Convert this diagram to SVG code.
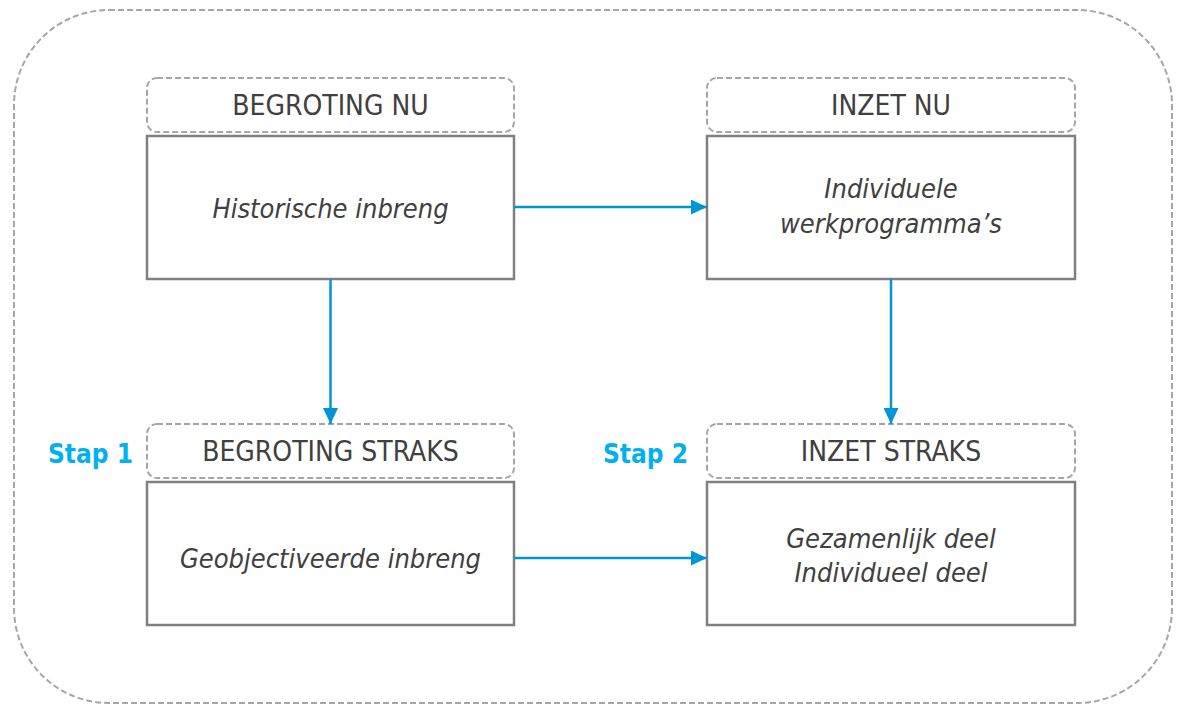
<svg xmlns="http://www.w3.org/2000/svg" width="1177" height="705" viewBox="0 0 1177 705">
<style>
.outer{fill:none;stroke:#a6a6a6;stroke-width:2;stroke-dasharray:6 3}
.hdr{fill:#fff;stroke:#a6a6a6;stroke-width:2;stroke-dasharray:6 3}
.box{fill:#fff;stroke:#808080;stroke-width:2.5}
.ht{font-family:"DejaVu Sans Condensed","DejaVu Sans",sans-serif;font-size:28px;fill:#404040;text-anchor:middle}
.bt{font-family:"DejaVu Sans Condensed","DejaVu Sans",sans-serif;font-size:27px;font-style:italic;fill:#404040;text-anchor:middle}
.stap{font-family:"DejaVu Sans Condensed","DejaVu Sans",sans-serif;font-size:26px;font-weight:bold;fill:#00B0F0;text-anchor:end}
.conn{stroke:#0096D6;stroke-width:2.5;fill:none}
</style>
<defs>
<marker id="ah" markerWidth="16" markerHeight="15" refX="16" refY="7.5" orient="auto" markerUnits="userSpaceOnUse">
<path d="M0,0 L16,7.5 L0,15 Z" fill="#0096D6"/>
</marker>
</defs>
<rect class="outer" x="14" y="10" width="1158" height="693" rx="95" ry="95"/>
<g id="begroting-nu">
<rect class="hdr" x="147" y="78" width="367" height="54" rx="10"/>
<text class="ht" x="330.5" y="115">BEGROTING NU</text>
<rect class="box" x="147" y="136" width="367" height="143"/>
<text class="bt" x="330.5" y="218">Historische inbreng</text>
</g>
<g id="inzet-nu">
<rect class="hdr" x="707" y="78" width="368" height="54" rx="10"/>
<text class="ht" x="891" y="115">INZET NU</text>
<rect class="box" x="707" y="136" width="368" height="143"/>
<text class="bt" x="891" y="198">Individuele</text>
<text class="bt" x="891" y="233">werkprogramma’s</text>
</g>
<g id="begroting-straks">
<text class="stap" x="133" y="463">Stap 1</text>
<rect class="hdr" x="147" y="424" width="367" height="54" rx="10"/>
<text class="ht" x="330.5" y="461">BEGROTING STRAKS</text>
<rect class="box" x="147" y="482" width="367" height="143"/>
<text class="bt" x="330.5" y="568">Geobjectiveerde inbreng</text>
</g>
<g id="inzet-straks">
<text class="stap" x="688" y="463">Stap 2</text>
<rect class="hdr" x="707" y="424" width="368" height="54" rx="10"/>
<text class="ht" x="891" y="461">INZET STRAKS</text>
<rect class="box" x="707" y="482" width="368" height="143"/>
<text class="bt" x="891" y="548">Gezamenlijk deel</text>
<text class="bt" x="891" y="582">Individueel deel</text>
</g>
<g id="connectors">
<line class="conn" x1="514" y1="207" x2="707" y2="207" marker-end="url(#ah)"/>
<line class="conn" x1="330.5" y1="279" x2="330.5" y2="424" marker-end="url(#ah)"/>
<line class="conn" x1="891" y1="279" x2="891" y2="424" marker-end="url(#ah)"/>
<line class="conn" x1="514" y1="558" x2="707" y2="558" marker-end="url(#ah)"/>
</g>
</svg>
